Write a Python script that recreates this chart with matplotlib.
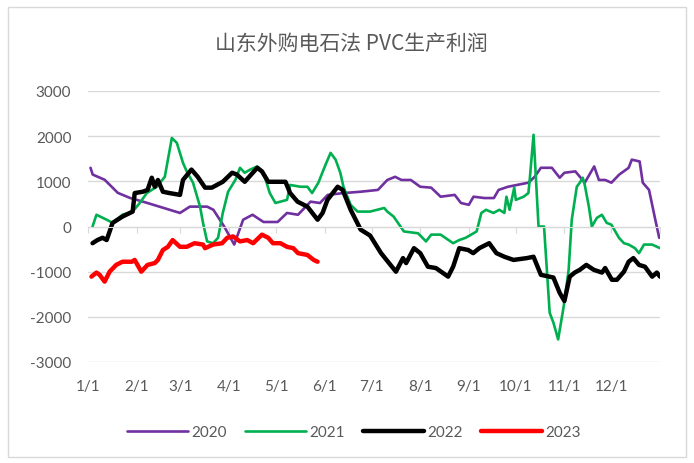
import matplotlib
matplotlib.use("Agg")
import matplotlib.pyplot as plt
from matplotlib.patches import Rectangle

plt.rcParams["font.family"] = ["Lato", "Noto Sans CJK SC", "DejaVu Sans"]
plt.rcParams["axes.unicode_minus"] = False

titulo = "山东外购电石法 PVC生产利润"
inicio_meses = [0, 31, 59, 90, 120, 151, 181, 212, 243, 273, 304, 334]
rotulos_meses = ["1/1", "2/1", "3/1", "4/1", "5/1", "6/1", "7/1", "8/1", "9/1", "10/1", "11/1", "12/1"]

# dia do ano / lucro (yuan/t)
dias_2020 = [1.6, 3, 10.6, 15.7, 19, 26.6, 37.5, 58.7, 65, 76, 80, 86.9, 93.3, 99, 105, 112, 116, 121, 127,
             134, 142, 148, 153, 163, 174, 185, 191, 196, 200, 206, 212, 219, 225, 234, 238, 243, 246, 253,
             259, 262, 268, 281, 285, 289, 296, 301, 304, 311, 317, 323, 326, 330, 334, 339, 345, 347, 352,
             354, 358, 362, 364.5]
lucro_2020 = [1300, 1150, 1035, 860, 745, 635, 525, 300, 440, 440, 370, 0, -400, 150, 260, 100, 100, 100, 300,
              260, 550, 520, 700, 740, 770, 810, 1030, 1100, 1030, 1030, 880, 860, 660, 700, 520, 480, 660, 630,
              630, 810, 880, 970, 1100, 1300, 1300, 1080, 1190, 1220, 970, 1330, 1030, 1030, 970, 1150, 1300,
              1480, 1440, 970, 810, 150, -250]

dias_2021 = [2.9, 5.4, 11.9, 15.7, 22, 28.5, 33, 37.5, 43.9, 49, 53.5, 56.7, 60.6, 63, 67, 71.5, 73.4, 76,
             79.8, 83, 86, 89.4, 94, 97, 100, 103.5, 108, 112, 116, 119.6, 127, 129, 135.6, 140, 143, 147,
             151.6, 154.8, 158, 161, 163, 167.6, 172, 180, 189, 191, 195, 201.6, 210.6, 215.7, 219, 225,
             233, 236.9, 241, 248, 251, 254, 258.7, 262.5, 265.7, 267, 269, 272, 273, 278, 281, 281.7,
             284.3, 287.5, 291, 294.6, 297, 300, 303.5, 306.7, 308.7, 311.9, 313.8, 315.7, 317, 319.6,
             321.5, 324.7, 327.9, 331, 334, 338.8, 342, 345, 349, 351.6, 354.8, 360, 365]
lucro_2021 = [0, 260, 150, 80, 260, 330, 520, 740, 880, 1100, 1960, 1850, 1410, 1220, 970, 440, 80, -330,
              -370, -250, 300, 770, 1030, 1300, 1190, 1260, 1330, 1190, 740, 520, 590, 920, 880, 880, 740, 970,
              1370, 1630, 1480, 1190, 880, 480, 330, 330, 410, 330, 220, -110, -150, -330, -180, -180,
              -370, -300, -250, -110, 300, 370, 300, 370, 300, 660, 370, 860, 590, 660, 740, 970,
              2030, 0, 0, -1910, -2130, -2500, -1780, -960, 150, 880, 970, 1080, 920, 440,
              0, 190, 260, 80, 40, -250, -370, -400, -480, -590, -400, -400, -480]

dias_2022 = [2.9, 6, 9.3, 11.9, 13.8, 15.7, 22, 28.5, 29.8, 35, 38, 40.7, 42.6, 44.6, 47.8, 52, 58.7, 60.6,
             66, 70, 74.7, 79, 86, 92, 95, 100, 108, 111, 115, 126, 129, 133.7, 140, 146.5, 149.7, 152.8,
             159.3, 162.5, 167.6, 174, 180, 187, 196.5, 201, 203, 208, 212, 216.9, 222, 229.8, 233, 236.9,
             242.6, 245.8, 249.7, 256, 260.6, 265.7, 271.5, 280, 284.3, 289, 297, 301, 304, 307.4, 310.6,
             313.8, 318, 322.8, 328, 330, 334.3, 337.5, 342, 345, 348, 351.6, 355.4, 360, 363, 365]
lucro_2022 = [-370, -300, -250, -300, -110, 80, 220, 330, 740, 770, 810, 1080, 880, 1030, 770, 740, 700, 1030,
              1260, 1100, 860, 860, 990, 1190, 1150, 990, 1300, 1220, 990, 990, 740, 550, 440, 150, 300, 590,
              880, 810, 370, -70, -200, -590, -1000, -700, -810, -480, -590, -890, -920, -1110, -890, -480,
              -520, -590, -480, -370, -590, -670, -740, -700, -670, -1070, -1130, -1470, -1650, -1110, -1020,
              -960, -850, -960, -1020, -920, -1180, -1180, -1000, -780, -700, -850, -890, -1110, -1020, -1110]

dias_2023 = [2.2, 5.4, 7.4, 10.6, 13.8, 18, 22, 28, 29.8, 34, 38, 42.6, 44.6, 47.8, 51, 54, 58.7, 63, 68,
             73.4, 74.7, 79.8, 85.6, 88.8, 92.6, 97, 101.6, 105.4, 111, 115, 118, 122.8, 127, 131, 134,
             140, 144, 146.5]
lucro_2023 = [-1110, -1020, -1070, -1220, -1000, -850, -780, -780, -740, -1000, -850, -810, -740, -520, -450,
              -300, -450, -450, -370, -400, -480, -400, -370, -250, -220, -330, -300, -370, -180, -250, -370,
              -370, -450, -480, -590, -630, -740, -780]

series = [
    ("2020", dias_2020, lucro_2020, "#7030A0", 1.9),
    ("2021", dias_2021, lucro_2021, "#00B050", 1.9),
    ("2022", dias_2022, lucro_2022, "#000000", 3.2),
    ("2023", dias_2023, lucro_2023, "#FF0000", 3.2),
]

cinza = "#D9D9D9"
texto = "#595959"

fig = plt.figure(figsize=(6.94, 4.64), dpi=100)
ax = fig.add_axes([88 / 694, 1 - 363 / 464, (660 - 88) / 694, (363 - 92) / 464])

for nome, dias, lucro, cor, lw in series:
    ax.plot(dias, lucro, color=cor, lw=lw, label=nome, solid_joinstyle="round", solid_capstyle="round")

ax.set_xlim(0, 365)
ax.set_ylim(-3000, 3000)
ax.set_yticks(range(-3000, 3001, 1000))
ax.grid(axis="y", color=cinza, lw=1)
ax.set_axisbelow(True)
for lado in ["top", "right", "left"]:
    ax.spines[lado].set_visible(False)
ax.spines["bottom"].set_position(("data", 0))
ax.spines["bottom"].set_color(cinza)
ax.set_xticks(inicio_meses + [365])
ax.set_xticklabels([])
ax.tick_params(axis="x", length=4, color=cinza, direction="out")
ax.tick_params(axis="y", length=0, pad=12, labelsize=11, labelcolor=texto)

eixo_x = ax.secondary_xaxis(0)
eixo_x.set_xticks(inicio_meses)
eixo_x.set_xticklabels(rotulos_meses)
eixo_x.tick_params(length=0, pad=12, labelsize=11, labelcolor=texto)
eixo_x.spines["bottom"].set_visible(False)

fig.text(351 / 694, 1 - 44 / 464, titulo, ha="center", va="center", fontsize=15, color=texto,
         family=["Noto Sans CJK SC", "DejaVu Sans"])

leg = fig.legend(loc="center", bbox_to_anchor=(354 / 694, 1 - 433 / 464), ncol=4, frameon=False,
                 handlelength=4, handletextpad=0.2, columnspacing=1.2, fontsize=11)
for t in leg.get_texts():
    t.set_color(texto)

fig.add_artist(Rectangle((8 / 694, 6 / 464), 678 / 694, 450 / 464, transform=fig.transFigure,
                         fill=False, edgecolor=cinza, lw=1))

fig.savefig("out.png", dpi=100)
